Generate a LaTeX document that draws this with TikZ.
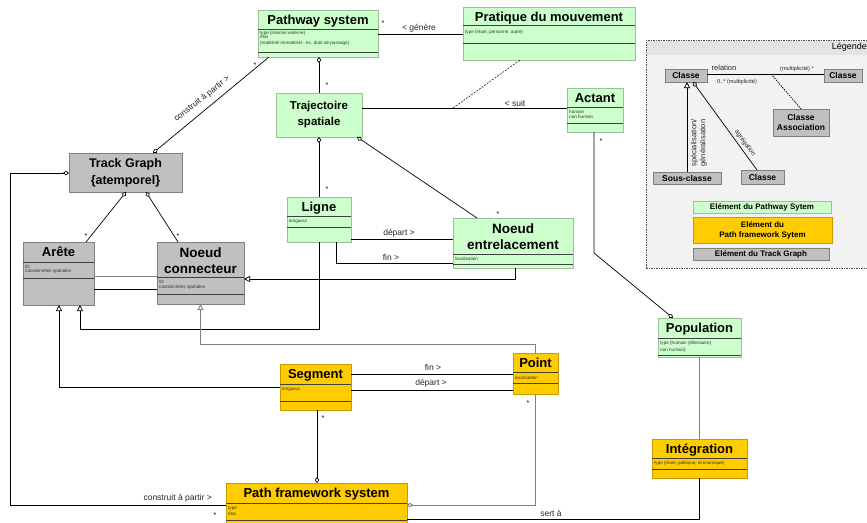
\documentclass[tikz,border=0pt]{standalone}
\usepackage{fontspec}
\setmainfont{Liberation Sans}
\usetikzlibrary{arrows.meta,calc}
\definecolor{pgreen}{HTML}{CCFFCC}
\definecolor{bgreen}{HTML}{99C299}
\definecolor{pyellow}{HTML}{FFCC00}
\definecolor{byellow}{HTML}{C89B00}
\definecolor{pgray}{HTML}{C0C0C0}
\definecolor{bgray}{HTML}{7F7F7F}
\definecolor{lineg}{HTML}{808080}
\definecolor{legbg}{HTML}{F2F2F2}
\definecolor{legband}{HTML}{E4E4E4}
\tikzset{
  dia/.tip={Diamond[open,length=6pt,width=4.5pt]},
  tri/.tip={Triangle[open,length=6pt,width=6pt]},
  box/.style={anchor=north west, inner sep=0pt, outer sep=0pt, line width=0.6pt},
  gbox/.style={box, draw=bgreen, fill=pgreen},
  ybox/.style={box, draw=byellow, fill=pyellow},
  kbox/.style={box, draw=bgray, fill=pgray},
  sep/.style={line width=0.9pt, draw=black!75},
  ttl/.style={font=\fontsize{13}{15}\selectfont\bfseries, inner sep=0pt, text height=9.3pt, text depth=0pt},
  mttl/.style={font=\fontsize{13}{15}\selectfont\bfseries, inner sep=0pt, align=center},
  lttl/.style={font=\fontsize{8.5}{10}\selectfont\bfseries, inner sep=0pt, align=center},
  attr/.style={font=\fontsize{4.6}{5}\selectfont, inner sep=0pt, anchor=west, xshift=2pt, text=black!80},
  conn/.style={line width=0.7pt, draw=black},
  gconn/.style={line width=0.9pt, draw=lineg},
  lbl/.style={font=\fontsize{8.5}{10}\selectfont, inner sep=0pt, text=black!85},
  slbl/.style={font=\fontsize{5.6}{7}\selectfont, inner sep=0pt, text=black!85},
  star/.style={font=\fontsize{7}{8}\selectfont, inner sep=0pt},
  aggs/.style={arrows={dia-}},
  agge/.style={arrows={-dia}},
  gen/.style={arrows={-tri}},
}
\begin{document}
\begin{tikzpicture}[x=1pt,y=-1pt]
\useasboundingbox (0,0) rectangle (867,522);

% ---------------- Legend ----------------
\node[anchor=north west, draw=black!70, dash pattern=on 1.5pt off 1pt, fill=legbg,
      minimum width=224pt, minimum height=228pt, inner sep=0pt] (leg) at (646,40) {};
\fill[legband] ([shift={(0.5pt,-0.5pt)}]leg.north west) rectangle ([shift={(0pt,-15pt)}]leg.north east);
\node[anchor=east, inner sep=0pt, font=\fontsize{9}{10}\selectfont] at (867,47.5) {Légende};

\node[kbox, minimum width=42pt, minimum height=13pt] (lc1) at (665,69) {};
\node[lttl] at (lc1.center) {Classe};
\node[kbox, minimum width=38pt, minimum height=13pt] (lc2) at (824,69) {};
\node[lttl] at (lc2.center) {Classe};
\node[kbox, minimum width=56pt, minimum height=27pt] (lca) at (773,109) {};
\node[lttl, font=\fontsize{8.5}{10.5}\selectfont\bfseries] at (lca.center) {Classe\\Association};
\node[kbox, minimum width=68pt, minimum height=12pt] (lsc) at (653,172) {};
\node[lttl] at (lsc.center) {Sous-classe};
\node[kbox, minimum width=43pt, minimum height=14pt] (lc3) at (741,170) {};
\node[lttl] at (lc3.center) {Classe};
\node[gbox, minimum width=138pt, minimum height=12pt] (le1) at (693,201) {};
\node[lttl, font=\fontsize{8}{9.5}\selectfont\bfseries] at (le1.center) {Elément du Pathway Sytem};
\node[ybox, minimum width=139pt, minimum height=26pt] (le2) at (693,217) {};
\node[lttl, font=\fontsize{8}{10}\selectfont\bfseries] at (le2.center) {Elément du\\Path framework Sytem};
\node[kbox, minimum width=136pt, minimum height=12pt] (le3) at (693,248) {};
\node[lttl, font=\fontsize{8}{9.5}\selectfont\bfseries] at (le3.center) {Elément du Track Graph};

\draw[conn] (lc1.east |- 0,74) -- coordinate[pos=0.547] (lasc) (lc2.west |- 0,74);
\draw[conn, dash pattern=on 1.5pt off 1pt] (lasc) -- (lca.north);
\node[lbl, font=\fontsize{7.5}{9}\selectfont] at (724,68) {relation};
\node[slbl] at (797,69.5) {(multiplicité) *};
\node[slbl] at (737,82) {0..* (multiplicité)};
\draw[conn, gen] (lsc.north -| 687,0) -- (lc1.south -| 687,0);
\draw[conn, agge] (lc3.north -| 757,0) -- (lc1.south -| 693,0);
\node[lbl, font=\fontsize{7.5}{9}\selectfont, rotate=90, align=center] at (699,143) {spécialisation/\\généralisation};
\node[lbl, font=\fontsize{6.5}{8}\selectfont, rotate=-53.6] at (745,143) {agrégation};

% ---------------- Classes ----------------
% Pathway system
\node[gbox, minimum width=120pt, minimum height=47pt] (ps) at (258,10) {};
\draw[sep] (ps.west |- 0,29) -- (ps.east |- 0,29);
\draw[sep] (ps.west |- 0,52) -- (ps.east |- 0,52);
\node[ttl] at (ps.north |- 0,19.5) {Pathway system};
\node[attr] at (ps.west |- 0,33.5) {type \{interne/ externe\}};
\node[attr] at (ps.west |- 0,37.3) {état};
\node[attr] at (ps.west |- 0,43.3) {\{matériel/ immatériel - ex. droit de passage\}};

% Pratique du mouvement
\node[gbox, minimum width=172pt, minimum height=53pt] (pm) at (463,7) {};
\draw[sep] (pm.west |- 0,25) -- (pm.east |- 0,25);
\draw[sep] (pm.west |- 0,43) -- (pm.east |- 0,43);
\node[ttl] at (pm.north |- 0,16.5) {Pratique du mouvement};
\node[attr] at (pm.west |- 0,32) {type \{rituel, personne, autre\}};

% Trajectoire spatiale
\node[gbox, minimum width=86pt, minimum height=44pt] (ts) at (276,93) {};
\node[mttl, font=\fontsize{11.5}{16}\selectfont\bfseries] at (ts.center) {Trajectoire\\spatiale};

% Actant
\node[gbox, minimum width=56pt, minimum height=44pt] (ac) at (567,88) {};
\draw[sep] (ac.west |- 0,107) -- (ac.east |- 0,107);
\draw[sep] (ac.west |- 0,123) -- (ac.east |- 0,123);
\node[ttl] at (ac.north |- 0,97.5) {Actant};
\node[attr] at (ac.west |- 0,111.5) {humain};
\node[attr] at (ac.west |- 0,116.5) {non humain};

% Track Graph
\node[kbox, minimum width=113pt, minimum height=39pt] (tg) at (69,153) {};
\node[mttl, font=\fontsize{12.5}{17}\selectfont\bfseries] at (tg.center) {Track Graph\\\{atemporel\}};

% Arête
\node[kbox, minimum width=71pt, minimum height=63pt] (ar) at (23,242) {};
\draw[sep] (ar.west |- 0,262) -- (ar.east |- 0,262);
\draw[sep] (ar.west |- 0,278) -- (ar.east |- 0,278);
\node[ttl] at (ar.north |- 0,252) {Arête};
\node[attr] at (ar.west |- 0,266.5) {ID};
\node[attr] at (ar.west |- 0,271) {coordonnées spatiales};

% Noeud connecteur
\node[kbox, minimum width=87pt, minimum height=62pt] (nc) at (157,242) {};
\draw[sep] (nc.west |- 0,277) -- (nc.east |- 0,277);
\draw[sep] (nc.west |- 0,294) -- (nc.east |- 0,294);
\node[mttl, font=\fontsize{13.5}{15.5}\selectfont\bfseries] at (nc.north |- 0,260.5) {Noeud\\connecteur};
\node[attr] at (nc.west |- 0,282) {ID};
\node[attr] at (nc.west |- 0,287) {coordonnées spatiales};

% Ligne
\node[gbox, minimum width=64pt, minimum height=45pt] (li) at (287,197) {};
\draw[sep] (li.west |- 0,216) -- (li.east |- 0,216);
\draw[sep] (li.west |- 0,227) -- (li.east |- 0,227);
\node[ttl] at (li.north |- 0,206.5) {Ligne};
\node[attr] at (li.west |- 0,221) {longueur};

% Noeud entrelacement
\node[gbox, minimum width=120pt, minimum height=50pt] (ne) at (453,218) {};
\draw[sep] (ne.west |- 0,254) -- (ne.east |- 0,254);
\draw[sep] (ne.west |- 0,264) -- (ne.east |- 0,264);
\node[mttl, font=\fontsize{13.5}{16}\selectfont\bfseries] at (ne.north |- 0,237) {Noeud\\entrelacement};
\node[attr] at (ne.west |- 0,259) {localisation};

% Population
\node[gbox, minimum width=83pt, minimum height=39pt] (po) at (658,318) {};
\draw[sep] (po.west |- 0,338) -- (po.east |- 0,338);
\draw[sep] (po.west |- 0,355) -- (po.east |- 0,355);
\node[ttl] at (po.north |- 0,328) {Population};
\node[attr] at (po.west |- 0,343) {type \{humain (élite/autre)};
\node[attr] at (po.west |- 0,350) {non humain\}};

% Intégration
\node[ybox, minimum width=95pt, minimum height=39pt] (it) at (652,439) {};
\draw[sep] (it.west |- 0,458) -- (it.east |- 0,458);
\draw[sep] (it.west |- 0,469) -- (it.east |- 0,469);
\node[ttl] at (it.north |- 0,449) {Intégration};
\node[attr] at (it.west |- 0,463.5) {type \{rituel, politique, économique\}};

% Segment
\node[ybox, minimum width=71pt, minimum height=46pt] (se) at (280,364) {};
\draw[sep] (se.west |- 0,384) -- (se.east |- 0,384);
\draw[sep] (se.west |- 0,401) -- (se.east |- 0,401);
\node[ttl] at (se.north |- 0,374) {Segment};
\node[attr] at (se.west |- 0,389) {longueur};

% Point
\node[ybox, minimum width=45pt, minimum height=41pt] (pt) at (513,353) {};
\draw[sep] (pt.west |- 0,372) -- (pt.east |- 0,372);
\draw[sep] (pt.west |- 0,383) -- (pt.east |- 0,383);
\node[ttl] at (pt.north |- 0,362.5) {Point};
\node[attr] at (pt.west |- 0,377.5) {localisation};

% Path framework system
\node[ybox, minimum width=181pt, minimum height=40pt] (pf) at (226,483) {};
\draw[sep] (pf.west |- 0,503) -- (pf.east |- 0,503);
\draw[sep] (pf.west |- 0,520) -- (pf.east |- 0,520);
\node[ttl] at (pf.north |- 0,493) {Path framework system};
\node[attr] at (pf.west |- 0,508.5) {type};
\node[attr] at (pf.west |- 0,513.5) {état};

% ---------------- Connectors ----------------
% Pathway system -- Pratique du mouvement
\draw[conn] (ps.east |- 0,34) -- (pm.west |- 0,34);
\node[lbl] at (419,28.5) {< génère};
\node[star] at (383,23) {*};

% Pathway system -- Track Graph
\draw[conn, agge] (ps.south -| 269,0) -- (tg.north -| 153,0);
\node[lbl, rotate=38.4] at (202,99) {construit à partir >};
\node[star] at (255,65) {*};

% Pathway system -- Trajectoire
\draw[conn, aggs] (ps.south -| ts.north) -- (ts.north);
\node[star] at (327,85) {*};

% Trajectoire -- Actant
\draw[conn] (ts.east |- 0,108) -- coordinate[pos=0.444] (asc) (ac.west |- 0,108);
\node[lbl] at (515,103) {< suit};
\draw[conn, dash pattern=on 2pt off 1.2pt, line width=0.5pt] (asc) -- (pm.south -| 520,0);

% Trajectoire -- Ligne
\draw[conn, aggs] (ts.south) -- (li.north);
\node[star] at (327,189) {*};
% Trajectoire -- Noeud entrelacement
\draw[conn, aggs] (ts.south -| 357,0) -- (ne.north -| 477,0);
\node[star] at (498,214) {*};

% Ligne -- Noeud entrelacement
\draw[conn] (li.east |- 0,239) -- (ne.west |- 0,239);
\node[lbl] at (399,233) {départ >};
\draw[conn] (li.south -| 336,0) |- (ne.west |- 0,263);
\node[lbl] at (391,257.5) {fin >};

% Noeud entrelacement -> Noeud connecteur
\draw[conn, gen] (ne.south -| 515,0) |- (nc.east |- 0,279);

% Track Graph -- Arête / Noeud connecteur
\draw[conn, aggs] (tg.south -| 126,0) -- (ar.north -| 86,0);
\node[star] at (86,236) {*};
\draw[conn, aggs] (tg.south -| 146,0) -- (nc.north -| 178,0);
\node[star] at (178,236) {*};

% Arête -- Noeud connecteur
\draw[gconn] (ar.east |- 0,276) -- (nc.west |- 0,276);
\draw[conn] (ar.east |- 0,289) -- (nc.west |- 0,289);

% Ligne -> Arête
\draw[conn, gen] (li.south) -- (li.south |- 0,329) -| (ar.south -| 80,0);
% Point -> Noeud connecteur
\draw[gconn, gen] (pt.north) -- (pt.north |- 0,344) -| (nc.south);
% Segment -> Arête
\draw[conn, gen] (se.west |- 0,387) -| (ar.south -| 59,0);

% Segment -- Point
\draw[conn] (se.east |- 0,374) -- (pt.west |- 0,374);
\node[lbl] at (433,367.5) {fin >};
\draw[conn] (se.east |- 0,390) -- (pt.west |- 0,390);
\node[lbl] at (431,383.5) {départ >};

% Segment -- Path framework
\draw[conn, agge] (se.south -| 317,0) -- (pf.north -| 317,0);
\node[star] at (323,418) {*};
% Point -- Path framework
\draw[gconn, agge] (pt.south) |- (pf.east |- 0,505);
\node[star] at (528,403) {*};

% Track Graph -- Path framework
\draw[conn, aggs] (tg.west |- 0,173) -- ++(-59,0) |- (pf.west |- 0,505);
\node[lbl, anchor=east] at (212,498) {construit à partir >};
\node[star] at (215,515) {*};

% Actant -- Population
\draw[conn, agge] (ac.south -| 594,0) -- ++(0,121) -- (po.north -| 673,0);
\node[star] at (601,141) {*};

% Population -- Intégration
\draw[gconn] (po.south) -- (it.north);
% Intégration -- Path framework
\draw[conn] (it.south) |- (pf.east |- 0,519);
\node[lbl] at (551,513) {sert à};

\end{tikzpicture}
\end{document}
